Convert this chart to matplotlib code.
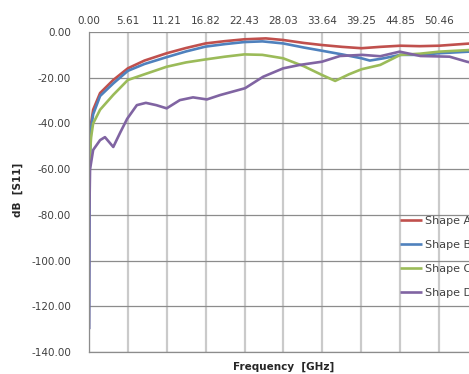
import matplotlib
matplotlib.use("Agg")
import matplotlib.pyplot as plt
import numpy as np

# Frequency (GHz) sample points and S11 (dB) for each shape
freq_a = [0, 0.3, 0.6, 1.6, 3.5, 5.6, 8, 11.2, 14, 16.8, 19.6, 22.4, 25.5, 28, 31, 33.6, 36.5, 39.3, 42, 44.9, 47.7, 50.5, 56]
s11_a = [-55, -40, -34, -26.7, -21, -15.9, -12.5, -9.3, -7, -5, -4, -3.2, -2.8, -3.5, -4.8, -5.7, -6.5, -7.1, -6.5, -6, -6.2, -6, -4.8]

freq_b = [0, 0.1, 0.3, 0.6, 1.6, 3.5, 5.6, 8, 11.2, 14, 16.8, 19.6, 22.4, 25, 28, 31, 33.6, 36.5, 39.3, 40.5, 42.5, 44.9, 47.7, 50.5, 56]
s11_b = [-130, -60, -42, -36, -28, -22.5, -17, -14, -11, -8.5, -6.4, -5.3, -4.4, -4.1, -5, -6.8, -8.2, -9.8, -11.5, -12.5, -11.5, -10, -10, -9.3, -8.4]

freq_c = [0, 0.3, 0.6, 1.6, 3.5, 5.6, 8, 11.2, 14, 16.8, 19.6, 22.4, 25, 28, 31, 33.6, 35.5, 37.5, 39.3, 42, 44.9, 47.7, 50.5, 56]
s11_c = [-60, -46, -40, -34, -27.5, -21, -18.5, -15.2, -13.3, -12, -10.8, -9.8, -10, -11.5, -15, -18.8, -21.4, -18.5, -16.3, -14.4, -10, -9.5, -8.6, -7.7]

freq_d = [0, 0.05, 0.15, 0.6, 1.6, 2.3, 3.5, 4.5, 5.5, 6.9, 8.2, 9.7, 11.2, 13.1, 15, 17, 18.9, 22.5, 25.1, 28, 30.4, 33.6, 36.2, 39.4, 42, 44.8, 47.8, 52, 54.5, 56]
s11_d = [-130, -80, -60, -51.6, -47.3, -46, -50.3, -44, -38, -32, -31, -32, -33.4, -29.8, -28.6, -29.5, -27.6, -24.6, -19.6, -15.9, -14.4, -13, -10.5, -10, -10.6, -8.6, -10.5, -10.8, -13, -14]

series = [("Shape A", freq_a, s11_a, "#C0504D"),
          ("Shape B", freq_b, s11_b, "#4F81BD"),
          ("Shape C", freq_c, s11_c, "#9BBB59"),
          ("Shape D", freq_d, s11_d, "#8064A2")]

x_ticks = [0.00, 5.61, 11.21, 16.82, 22.43, 28.03, 33.64, 39.25, 44.85, 50.46, 56.07]
x_labels = ["0.00", "5.61", "11.21", "16.82", "22.43", "28.03", "33.64", "39.25", "44.85", "50.46", ""]
y_ticks = [0, -20, -40, -60, -80, -100, -120, -140]

W, H = 469, 374
fig = plt.figure(figsize=(W / 100, H / 100), dpi=100)
px_per_ghz = 38.9 / 5.61
ax_w = 56.07 * px_per_ghz
ax = fig.add_axes([89 / W, (H - 352) / H, ax_w / W, 320 / H])

for name, f, s, c in series:
    ax.plot(f, s, color=c, lw=1.9, label=name, solid_capstyle="butt")

ax.set_xlim(0, 56.07)
ax.set_ylim(-140, 0)
ax.set_xticks(x_ticks)
ax.set_xticklabels(x_labels)
ax.set_yticks(y_ticks)
ax.set_yticklabels([f"{v:.2f}" for v in y_ticks])
ax.xaxis.tick_top()
ax.tick_params(axis="x", length=0, pad=4, labelsize=7.5, colors="#404040")
ax.tick_params(axis="y", length=0, pad=13, labelsize=7.5, colors="#404040")

ax.xaxis.grid(True, color="#CACACA", lw=1.6)
ax.yaxis.grid(True, color="#8C8C8C", lw=0.9)
ax.set_axisbelow(True)
for sp in ["top", "right"]:
    ax.spines[sp].set_visible(False)
ax.spines["left"].set_color("#8C8C8C")
ax.spines["bottom"].set_color("#8C8C8C")
ax.spines["left"].set_linewidth(0.9)
ax.spines["bottom"].set_linewidth(0.9)

ax.set_xlabel("Frequency  [GHz]", fontsize=7.5, fontweight="bold", color="#262626")
ax.xaxis.set_label_position("bottom")
ax.xaxis.labelpad = 7
fig.text(18 / W, 1 - 190 / H, "dB  [S11]", rotation=90, fontsize=7.5,
         fontweight="bold", color="#262626", ha="center", va="center")

leg = ax.legend(loc="upper left", bbox_to_anchor=(400 / W, 1 - 216 / H),
                bbox_transform=fig.transFigure, frameon=False, fontsize=8,
                handlelength=2.0, handletextpad=0.25, labelspacing=1.25,
                borderpad=0, borderaxespad=0)
for t in leg.get_texts():
    t.set_color("#404040")

fig.savefig("out.png", dpi=100)
